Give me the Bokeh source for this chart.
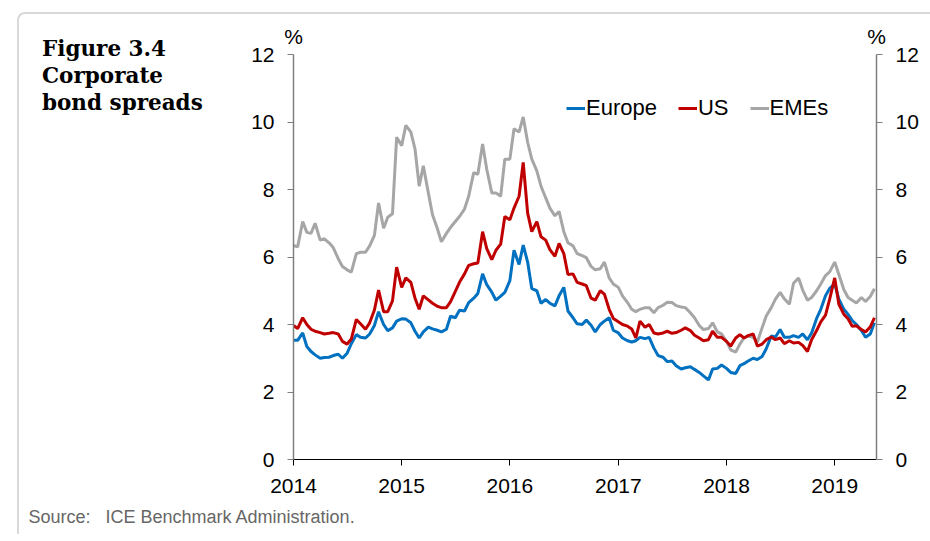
import pandas as pd
from bokeh.plotting import figure
from bokeh.layouts import column, row
from bokeh.models import (Range1d, LinearAxis, FixedTicker, DatetimeTickFormatter,
                          Legend, LegendItem, Div, CustomJSTickFormatter)
from bokeh.embed import file_html
from bokeh.resources import INLINE

# semi-monthly observation dates (1st and 15th), Jan 2014 - May 2019
dates = pd.date_range("2014-01-01", "2019-05-15", freq="SMS")

europe = [
    3.53, 3.53, 3.75, 3.35, 3.20, 3.10, 3.00, 3.02, 3.03, 3.08, 3.12, 3.00,
    3.15, 3.43, 3.70, 3.62, 3.60, 3.72, 3.97, 4.38, 4.00, 3.82, 3.90, 4.10,
    4.17, 4.16, 4.05, 3.80, 3.60, 3.78, 3.92, 3.87, 3.83, 3.78, 3.86, 4.25,
    4.20, 4.42, 4.40, 4.65, 4.78, 4.92, 5.50, 5.18, 4.96, 4.72, 4.84, 4.95,
    5.30, 6.20, 5.78, 6.35, 5.85, 5.06, 5.00, 4.63, 4.74, 4.63, 4.55, 4.85,
    5.10, 4.40, 4.20, 4.02, 4.00, 4.13, 3.98, 3.78, 4.00, 4.10, 4.20, 3.83,
    3.75, 3.60, 3.52, 3.48, 3.52, 3.62, 3.58, 3.62, 3.30, 3.08, 3.03, 2.90,
    2.92, 2.78, 2.68, 2.72, 2.75, 2.67, 2.58, 2.48, 2.36, 2.68, 2.70, 2.80,
    2.70, 2.58, 2.55, 2.78, 2.84, 2.92, 3.00, 2.96, 3.05, 3.28, 3.66, 3.63,
    3.85, 3.62, 3.62, 3.67, 3.62, 3.72, 3.55, 3.75, 4.18, 4.45, 4.85, 5.07,
    5.20, 4.75, 4.45, 4.30, 4.12, 4.00, 3.82, 3.62, 3.72, 4.05,
]

us = [
    3.97, 3.88, 4.20, 4.00, 3.86, 3.80, 3.76, 3.72, 3.74, 3.76, 3.72, 3.50,
    3.42, 3.57, 4.15, 4.02, 3.86, 4.05, 4.43, 5.02, 4.38, 4.38, 4.70, 5.70,
    5.10, 5.38, 5.25, 4.78, 4.45, 4.85, 4.73, 4.63, 4.54, 4.50, 4.50, 4.68,
    4.98, 5.25, 5.50, 5.75, 5.80, 5.82, 6.75, 6.25, 5.92, 6.20, 6.38, 7.20,
    7.10, 7.45, 7.80, 8.80, 7.30, 6.75, 7.05, 6.60, 6.50, 6.22, 6.02, 6.40,
    6.10, 5.48, 5.50, 5.25, 5.20, 5.15, 4.78, 4.72, 5.00, 4.90, 4.45, 4.18,
    4.08, 4.00, 3.95, 3.87, 3.60, 4.10, 3.92, 4.00, 3.75, 3.72, 3.75, 3.80,
    3.74, 3.76, 3.83, 3.90, 3.82, 3.68, 3.60, 3.52, 3.55, 3.80, 3.62, 3.62,
    3.50, 3.36, 3.60, 3.70, 3.60, 3.67, 3.72, 3.36, 3.42, 3.55, 3.63, 3.55,
    3.60, 3.43, 3.52, 3.45, 3.47, 3.38, 3.20, 3.55, 3.82, 4.08, 4.28, 4.75,
    5.38, 4.60, 4.30, 4.17, 3.95, 3.96, 3.85, 3.78, 3.93, 4.20,
]

emes = [
    6.34, 6.30, 7.05, 6.73, 6.70, 7.00, 6.50, 6.54, 6.42, 6.28, 5.95, 5.72,
    5.62, 5.55, 6.10, 6.14, 6.14, 6.33, 6.64, 7.60, 6.85, 7.18, 7.28, 9.55,
    9.30, 9.90, 9.70, 9.20, 8.10, 8.70, 7.90, 7.25, 6.85, 6.45, 6.70, 6.88,
    7.05, 7.20, 7.42, 7.80, 8.50, 8.45, 9.35, 8.60, 7.90, 7.90, 7.80, 8.90,
    8.90, 9.80, 9.70, 10.15, 9.40, 8.90, 8.55, 8.10, 7.75, 7.45, 7.22, 7.35,
    6.75, 6.42, 6.33, 6.10, 6.04, 5.98, 5.72, 5.62, 5.65, 5.85, 5.38, 5.20,
    5.10, 4.85, 4.65, 4.45, 4.38, 4.45, 4.50, 4.50, 4.35, 4.50, 4.57, 4.66,
    4.65, 4.56, 4.52, 4.50, 4.35, 4.20, 3.97, 3.85, 3.88, 4.05, 3.78, 3.72,
    3.50, 3.25, 3.18, 3.42, 3.60, 3.66, 3.62, 3.48, 3.90, 4.25, 4.50, 4.75,
    4.95, 4.76, 4.60, 5.22, 5.38, 5.02, 4.72, 4.80, 5.00, 5.20, 5.45, 5.56,
    5.85, 5.48, 5.03, 4.80, 4.72, 4.64, 4.80, 4.68, 4.83, 5.06,
]

year_ticks = [2014, 2015, 2016, 2017, 2018, 2019]
y_ticks = [0, 2, 4, 6, 8, 10, 12]

FONT = "Liberation Sans"
TICK_SIZE = "21px"

# page geometry: outer panel starts at (17, 12) with a 2px border -> content at (19, 14)
OX, OY = 19, 14
TITLE_W = 229
PX = OX + TITLE_W           # left edge of the figure canvas
PW, PH = 682, 490

p = figure(width=PW, height=PH, x_axis_type="datetime",
           x_range=Range1d(pd.Timestamp("2014-01-01"), pd.Timestamp("2019-05-22")),
           y_range=Range1d(0, 12),
           output_backend="svg", toolbar_location=None,
           min_border_left=292 - PX, min_border_right=PX + PW - 876,
           min_border_top=54 - OY, min_border_bottom=OY + PH - 459,
           margin=0)
p.xgrid.visible = False
p.ygrid.visible = False
p.outline_line_color = None
p.background_fill_color = "white"
p.border_fill_color = "white"

# bottom axis
xa = p.xaxis[0]
xa.ticker = FixedTicker(ticks=[pd.Timestamp(f"{y}-01-01").value / 1e6 for y in year_ticks])
xa.formatter = DatetimeTickFormatter(years="%Y", months="%Y", days="%Y")
xa.axis_line_color = "black"
xa.major_tick_line_color = "black"
xa.major_tick_out = 6
xa.major_tick_in = 0
xa.minor_tick_line_color = None
xa.major_label_text_font = FONT
xa.major_label_text_font_size = TICK_SIZE
xa.major_label_text_color = "black"
xa.major_label_standoff = 13

# left and right value axes
ya = p.yaxis[0]
ya.ticker = FixedTicker(ticks=y_ticks)
right = LinearAxis(ticker=FixedTicker(ticks=y_ticks))
p.add_layout(right, "right")
for ax in (ya, right):
    ax.axis_line_color = "#7f7f7f"
    ax.axis_line_width = 1.5
    ax.major_tick_line_color = "#7f7f7f"
    ax.major_tick_out = 6
    ax.major_tick_in = 0
    ax.minor_tick_line_color = None
    ax.major_label_text_font = FONT
    ax.major_label_text_font_size = TICK_SIZE
    ax.major_label_text_color = "black"
    ax.major_label_standoff = 13

# unit markers ("%") above both value axes
p.extra_x_ranges = {"unit": Range1d(0, 1)}
unit_axis = LinearAxis(x_range_name="unit", ticker=FixedTicker(ticks=[0, 1]),
                       formatter=CustomJSTickFormatter(code="return '%'"))
unit_axis.axis_line_color = None
unit_axis.major_tick_line_color = None
unit_axis.minor_tick_line_color = None
unit_axis.major_tick_out = 0
unit_axis.major_tick_in = 0
unit_axis.major_label_standoff = 7
unit_axis.major_label_text_font = FONT
unit_axis.major_label_text_font_size = TICK_SIZE
unit_axis.major_label_text_color = "black"
p.add_layout(unit_axis, "above")

r_eme = p.line(dates, emes, line_color="#A6A6A6", line_width=3)
r_eu = p.line(dates, europe, line_color="#0070C0", line_width=3)
r_us = p.line(dates, us, line_color="#C00000", line_width=3)

legend = Legend(items=[LegendItem(label="Europe", renderers=[r_eu]),
                       LegendItem(label="US", renderers=[r_us]),
                       LegendItem(label="EMEs", renderers=[r_eme])],
                orientation="horizontal", location=(273, 338),
                border_line_color=None, background_fill_alpha=0,
                padding=0, margin=0, spacing=21, label_standoff=1,
                glyph_width=19, glyph_height=20,
                label_text_font=FONT, label_text_font_size="22px",
                label_text_color="black")
p.add_layout(legend)

title_div = Div(
    text=("<div style=\"font-family:'DejaVu Serif';font-weight:bold;font-size:21.5px;"
          "line-height:27.3px;color:#000;padding-left:%dpx;padding-top:%.1fpx;"
          "white-space:nowrap\">Figure 3.4<br>Corporate<br>bond spreads</div>")
    % (42 - OX, 34.7 - OY),
    width=TITLE_W, height=PH, margin=0)

source_div = Div(
    text=("<div style=\"font-family:'Liberation Sans';font-size:18px;line-height:20px;"
          "color:#666666;padding-left:%.1fpx;padding-top:%.1fpx;white-space:pre\">"
          "Source:   ICE Benchmark Administration.</div>")
    % (28.5 - OX, 506.5 - OY - PH),
    width=500, height=30, margin=0)

root = column(row(title_div, p, margin=0, spacing=0), source_div,
              margin=0, spacing=0,
              styles={"margin-left": "17px", "margin-top": "12px",
                      "border-top": "2px solid #d9d9d9",
                      "border-left": "2px solid #d9d9d9",
                      "border-top-left-radius": "8px",
                      "background-color": "white"})

open("out.html", "w").write(file_html(root, INLINE))
